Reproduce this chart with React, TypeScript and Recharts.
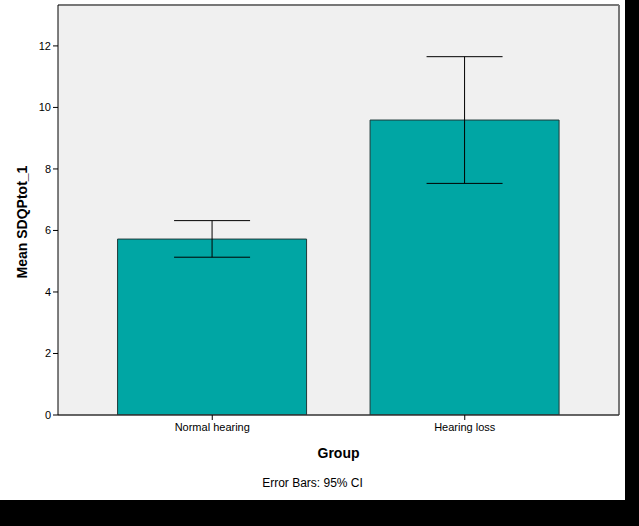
import React from 'react';
import { ComposedChart, Bar, XAxis, YAxis, ErrorBar, CartesianGrid } from 'recharts';

const categories = ['Normal hearing', 'Hearing loss'];
const means = [5.72, 9.59];
const ciLow = [5.13, 7.53];
const ciHigh = [6.32, 11.65];
const yTicks = [0, 2, 4, 6, 8, 10, 12];

const data = categories.map((c, i) => ({
  group: c,
  mean: means[i],
  err: [means[i] - ciLow[i], ciHigh[i] - means[i]],
}));

const FONT = '"Liberation Sans", Arial, sans-serif';

const YLabel = () => (
  <text
    x={22}
    y={222}
    transform="rotate(-90 22 222)"
    textAnchor="middle"
    dominantBaseline="central"
    fontFamily={FONT}
    fontSize={14}
    fontWeight="bold"
    fill="#000"
  >
    Mean SDQPtot_1
  </text>
);

const XLabel = (props: any) => {
  const vb = props.viewBox || { x: 58, y: 415, width: 561, height: 85 };
  return (
    <text
      x={vb.x + vb.width / 2}
      y={453}
      textAnchor="middle"
      dominantBaseline="central"
      fontFamily={FONT}
      fontSize={14}
      fontWeight="bold"
      fill="#000"
    >
      Group
    </text>
  );
};

export default function App() {
  return (
    <div style={{ position: 'absolute', left: 0, top: 0, width: 639, height: 526, background: '#000' }}>
      <div style={{ position: 'absolute', left: 0, top: 0, width: 625, height: 500, background: '#fff' }}>
        <ComposedChart
          width={625}
          height={500}
          data={data}
          margin={{ top: 5, right: 6, left: 0, bottom: 0 }}
          barCategoryGap="12.5%"
        >
          <CartesianGrid
            fill="#F0F0F0"
            stroke="#777"
            strokeWidth={2}
            horizontalCoordinatesGenerator={(p: any) => [p.offset.top]}
            verticalCoordinatesGenerator={(p: any) => [p.offset.left + p.offset.width]}
          />
          <XAxis
            dataKey="group"
            height={85}
            padding={{ left: 28, right: 28 }}
            axisLine={{ stroke: '#333', strokeWidth: 1.5 }}
            tickLine={{ stroke: '#000' }}
            tickSize={5}
            tickMargin={3}
            tick={{ fontFamily: FONT, fontSize: 11, fill: '#000' }}
            label={<XLabel />}
          />
          <YAxis
            width={58}
            domain={[0, 13.33]}
            ticks={yTicks}
            allowDataOverflow
            axisLine={{ stroke: '#000' }}
            tickLine={{ stroke: '#000' }}
            tickSize={5}
            tickMargin={2}
            tick={{ fontFamily: FONT, fontSize: 11, fill: '#000' }}
            label={<YLabel />}
          />
          <Bar dataKey="mean" fill="#00A6A4" stroke="#1f3a3a" strokeWidth={1} isAnimationActive={false}>
            <ErrorBar dataKey="err" width={38} stroke="#000" strokeWidth={1} direction="y" />
          </Bar>
        </ComposedChart>
        <div
          style={{
            position: 'absolute',
            left: 0,
            width: 625,
            top: 475,
            textAlign: 'center',
            fontFamily: FONT,
            fontSize: 12,
            color: '#000',
            lineHeight: '16px',
          }}
        >
          Error Bars: 95% CI
        </div>
      </div>
    </div>
  );
}
